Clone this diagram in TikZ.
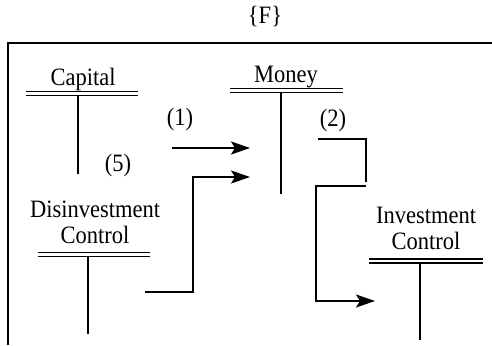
\documentclass[tikz,border=0pt]{standalone}
\usepackage{fontspec}
\setmainfont{Liberation Serif}
\newfontfamily\labelfont[FakeStretch=0.9]{Liberation Serif}
\usetikzlibrary{arrows.meta}

\begin{document}
\begin{tikzpicture}[
  x=1pt, y=-1pt,
  lbl/.style={font=\labelfont\fontsize{25}{26}\selectfont, align=center, inner sep=0pt},
  bar/.style={double, double distance=2.4pt, line width=1.4pt},
  stem/.style={line width=1.9pt},
  flow/.style={-{Stealth[length=19pt, width=13pt, inset=4pt]}, line width=1.9pt}
]
\useasboundingbox (0,0) rectangle (492,345);

\node[lbl] (title) at (265,17) {\{F\}};
\draw[stem] (8,345) -- (8,43) -- (492,43);

% stores
\node[lbl, anchor=base] (capital) at (83,85) {Capital};
\node[lbl, anchor=base] (money) at (286,82) {Money};
\node[lbl] (disinv) at (95,222) {Disinvestment\\Control};
\node[lbl] (inv) at (426,228) {Investment\\Control};

\draw[bar] (26,93.5) -- (138,93.5);
\draw[stem] (78,95.5) -- (78,174);
\draw[bar] (230,90.5) -- (343,90.5);
\draw[stem] (281,92.5) -- (281,194);
\draw[bar] (38,254.5) -- (150,254.5);
\draw[stem] (88,256.5) -- (88,334);
\draw[bar] (369,261) -- (483,261);
\draw[stem] (420,263) -- (420,340);

% flow labels
\node[lbl] (f1) at (180,119) {(1)};
\node[lbl] (f2) at (333,120) {(2)};
\node[lbl] (f5) at (118,165) {(5)};

% flows
\coordinate (a1) at (172,148);
\coordinate (b1) at (250,148);
\coordinate (a2) at (145,292);
\coordinate (k2) at (193,292);
\coordinate (b2) at (250,177);
\coordinate (a3) at (318,139);
\coordinate (b3) at (366,182);
\coordinate (a4) at (366,186);
\coordinate (k4) at (316,186);
\coordinate (b4) at (375,301);

\draw[flow] (a1) -- (b1);
\draw[flow] (a2) -- (k2) |- (b2);
\draw[stem] (a3) -| (b3);
\draw[flow] (a4) -- (k4) |- (b4);
\end{tikzpicture}
\end{document}
